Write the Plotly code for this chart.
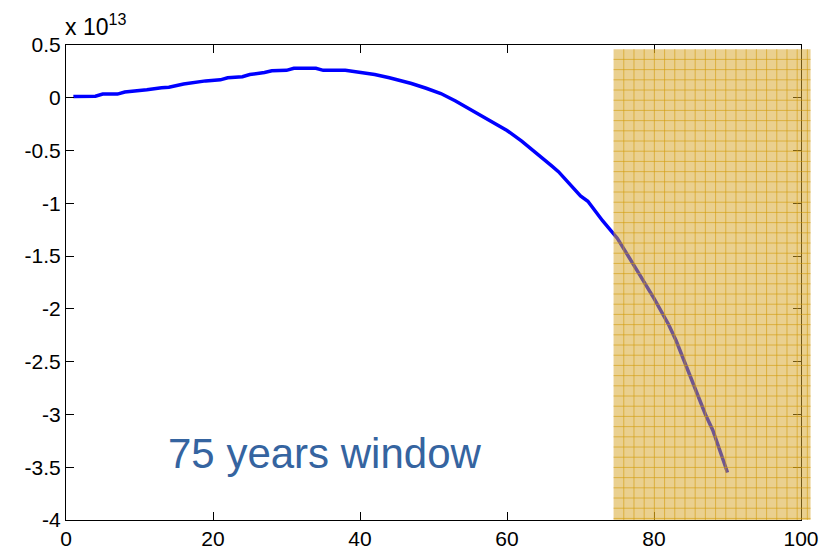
import plotly.graph_objects as go

# Data (values in units of 1e13)
years = [1, 4, 5, 7, 8, 10, 11, 13, 14, 16, 18, 19, 21, 22, 24, 25, 27, 28, 30, 31,
         34, 35, 38, 39, 40, 42, 44, 46, 47, 49, 51, 53, 55, 57, 59, 60, 62, 64, 66,
         67, 69, 70, 71, 73, 75, 77, 78, 80, 82, 83, 85, 87, 88, 90]
values = [0.012, 0.015, 0.035, 0.035, 0.055, 0.065, 0.076, 0.095, 0.10, 0.13, 0.15, 0.16,
          0.17, 0.19, 0.20, 0.22, 0.24, 0.255, 0.26, 0.28, 0.28, 0.26, 0.26, 0.25, 0.245,
          0.22, 0.19, 0.155, 0.135, 0.09, 0.04, -0.03, -0.11, -0.19, -0.27, -0.31, -0.41,
          -0.52, -0.64, -0.70, -0.85, -0.93, -0.98, -1.165, -1.33, -1.55, -1.67, -1.90,
          -2.15, -2.30, -2.65, -3.00, -3.15, -3.55]

x_ticks = [0, 20, 40, 60, 80, 100]
y_ticks = [0.5, 0, -0.5, -1, -1.5, -2, -2.5, -3, -3.5, -4]
y_ticktext = ["0.5", "0", "-0.5", "-1", "-1.5", "-2", "-2.5", "-3", "-3.5", "-4"]

window_x = [74.5, 101.3]
window_y = [-4.0, 0.46]

X_RANGE = [0, 100]
Y_RANGE = [-4, 0.5]

W, H = 836, 550
ML, MR, MT, MB = 66, 35, 45, 30
plot_w = W - ML - MR
plot_h = H - MT - MB


def px(x):
    return (x - X_RANGE[0]) / (X_RANGE[1] - X_RANGE[0])


def py(y):
    return (y - Y_RANGE[0]) / (Y_RANGE[1] - Y_RANGE[0])


fig = go.Figure()
fig.add_trace(go.Scatter(x=years, y=values, mode="lines",
                         line=dict(color="#0000ff", width=3.5), showlegend=False,
                         hoverinfo="skip"))

# shaded window (paper coords so it can extend beyond the axes like the original)
x0, x1 = px(window_x[0]), px(window_x[1])
y0, y1 = py(window_y[0]), py(window_y[1])
fig.add_shape(type="rect", xref="paper", yref="paper", x0=x0, x1=x1, y0=y0, y1=y1,
              fillcolor="rgba(215,165,40,0.52)", line=dict(width=0), layer="above")

# grid pattern inside window
cell = 10.2
dx = cell / plot_w
dy = cell / plot_h
path = []
k = 1
while x0 + k * dx < x1 - 1e-6:
    xv = x0 + k * dx
    path.append(f"M{xv:.5f},{y0:.5f}L{xv:.5f},{y1:.5f}")
    k += 1
k = 1
while y1 - k * dy > y0 + 1e-6:
    yv = y1 - k * dy
    path.append(f"M{x0:.5f},{yv:.5f}L{x1:.5f},{yv:.5f}")
    k += 1
fig.add_shape(type="path", xref="paper", yref="paper", path="".join(path),
              line=dict(color="rgba(210,155,10,0.6)", width=1), layer="above")

fig.add_annotation(x=35.2, y=-3.37, xref="x", yref="y", text="75 years window",
                   showarrow=False, xanchor="center", yanchor="middle",
                   font=dict(family="Liberation Sans, Arial", size=42, color="#3564a0"))

fig.add_annotation(x=0, y=1, xref="paper", yref="paper",
                   text="x 10<sup>13</sup>", showarrow=False,
                   xanchor="left", yanchor="bottom", yshift=3, xshift=-3,
                   font=dict(family="Liberation Sans, Arial", size=23, color="black"))

axis_common = dict(showgrid=False, zeroline=False, showline=True, linecolor="black",
                   linewidth=1, mirror="ticks", ticks="inside", ticklen=8,
                   tickcolor="black", tickwidth=1, automargin=False,
                   tickfont=dict(family="Liberation Sans, Arial", size=21, color="black"))

fig.update_xaxes(range=X_RANGE, tickvals=x_ticks, ticktext=[str(v) for v in x_ticks],
                 **axis_common)
fig.update_yaxes(range=Y_RANGE, tickvals=y_ticks, ticktext=y_ticktext, **axis_common)

fig.update_layout(width=W, height=H, margin=dict(l=ML, r=MR, t=MT, b=MB),
                  plot_bgcolor="white", paper_bgcolor="white")

fig.write_html("out.html")
